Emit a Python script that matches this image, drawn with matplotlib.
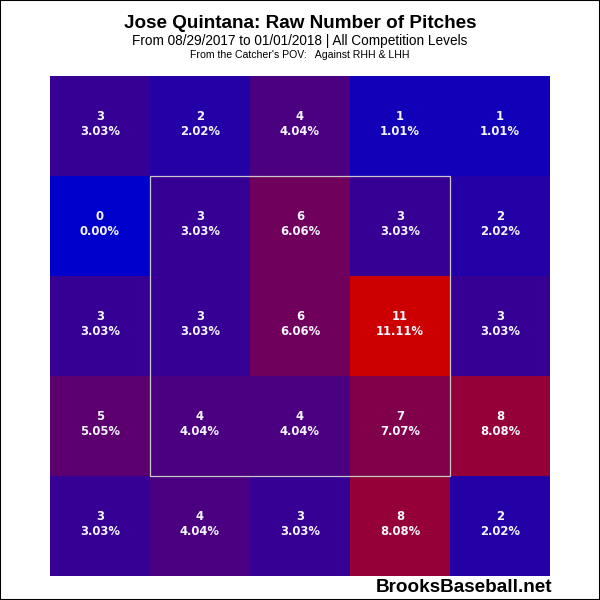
import matplotlib.pyplot as plt
from matplotlib.colors import LinearSegmentedColormap
from matplotlib.patches import Rectangle
import numpy as np

plt.rcParams['font.family'] = ['Liberation Sans', 'DejaVu Sans']

title = "Jose Quintana: Raw Number of Pitches"
subtitle = "From 08/29/2017 to 01/01/2018 | All Competition Levels"
pov = "From the Catcher's POV:   Against RHH & LHH"

# rows from top to bottom, columns left to right
counts = [
    [3, 2, 4, 1, 1],
    [0, 3, 6, 3, 2],
    [3, 3, 6, 11, 3],
    [5, 4, 4, 7, 8],
    [3, 4, 3, 8, 2],
]

data = np.array(counts)
total = data.sum()
cmap = LinearSegmentedColormap.from_list("bb", ["#0000cc", "#cc0000"])

fig = plt.figure(figsize=(6, 6), dpi=100)
ax = fig.add_axes([50 / 600, 24 / 600, 500 / 600, 500 / 600])
ax.imshow(data, cmap=cmap, vmin=0, vmax=data.max(), extent=(0, 5, 5, 0), aspect='auto')

for r in range(5):
    for c in range(5):
        v = data[r, c]
        ax.text(c + 0.5, r + 0.41, str(v), ha='center', va='center', family='DejaVu Sans',
                color='#f4f4ff', fontsize=8.4, fontweight='bold')
        ax.text(c + 0.5, r + 0.555, f"{100 * v / total:.2f}%", ha='center', va='center',
                family='DejaVu Sans', color='#f4f4ff', fontsize=8.4, fontweight='bold')

# strike zone
ax.add_patch(Rectangle((1, 1), 3, 3, fill=False, edgecolor='#c8c8c8', lw=0.9))
ax.set_xlim(0, 5)
ax.set_ylim(5, 0)
ax.axis('off')

fig.text(0.5, 1 - 23 / 600, title, ha='center', va='center', fontsize=13.6, fontweight='bold')
fig.text(0.5, 1 - 41 / 600, subtitle, ha='center', va='center', fontsize=9.8)
fig.text(0.5, 1 - 55 / 600, pov, ha='center', va='center', fontsize=7.6)
fig.text(552 / 600, 1 - 588 / 600, "BrooksBaseball.net", ha='right', va='center',
         fontsize=13.6, fontweight='bold')

# thin frame round the picture
fig.add_artist(Rectangle((0, 0), 1, 1, transform=fig.transFigure, fill=False,
                         edgecolor='black', lw=1.5))

fig.savefig("out.png", dpi=100)
